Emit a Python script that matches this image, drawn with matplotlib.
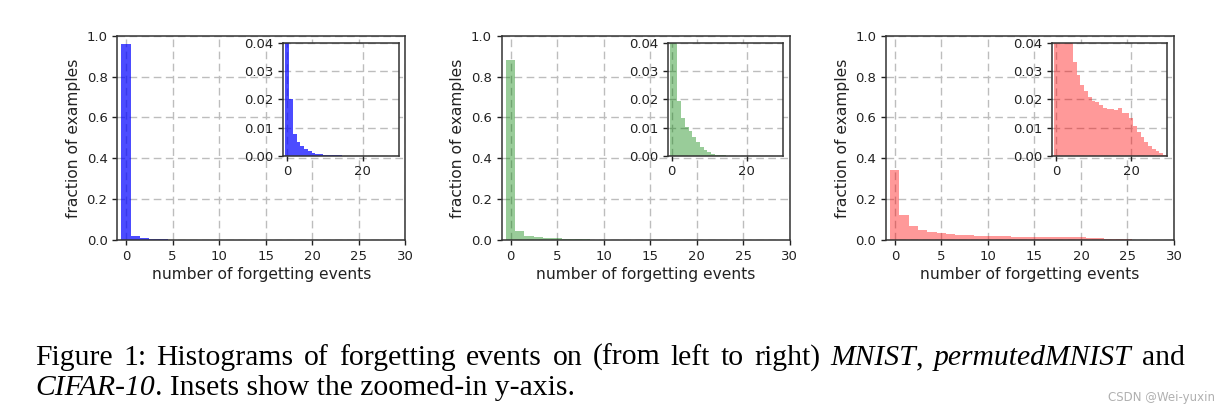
import numpy as np
import matplotlib
matplotlib.use("Agg")
import matplotlib.pyplot as plt

# ---------------- data ----------------
events = list(range(30))

mnist = [0.958, 0.0202, 0.0077, 0.0048, 0.0036, 0.0024, 0.0017, 0.0011, 0.0007, 0.0005,
         0.0003, 0.0002, 0.0001, 0.0001, 0.00005, 0, 0, 0, 0, 0,
         0, 0, 0, 0, 0, 0, 0, 0, 0, 0]

permuted_mnist = [0.882, 0.044, 0.0196, 0.0135, 0.0103, 0.0089, 0.0065, 0.0047, 0.0030, 0.0020,
                  0.0012, 0.0006, 0.0003, 0.0001, 0.00005, 0, 0, 0, 0, 0,
                  0, 0, 0, 0, 0, 0, 0, 0, 0, 0]

cifar10 = [0.341, 0.121, 0.069, 0.049, 0.041, 0.0334, 0.0286, 0.0251, 0.0230, 0.0210,
           0.0195, 0.0192, 0.0180, 0.0170, 0.0166, 0.0165, 0.0163, 0.0170, 0.0150, 0.0150,
           0.0135, 0.0107, 0.0085, 0.0067, 0.0050, 0.0036, 0.0024, 0.0017, 0.0008, 0.0004]

series = [mnist, permuted_mnist, cifar10]
colors = ["blue", "green", "red"]
alphas = [0.7, 0.4, 0.4]

main_xticks = [0, 5, 10, 15, 20, 25, 30]
main_yticks = [0.0, 0.2, 0.4, 0.6, 0.8, 1.0]
inset_xticks = [0, 20]
inset_yticks = [0.00, 0.01, 0.02, 0.03, 0.04]

xlabel = "number of forgetting events"
ylabel = "fraction of examples"

# ---------------- figure ----------------
W, H = 1226, 416
fig = plt.figure(figsize=(W / 100, H / 100), dpi=100)

TXT = "#222222"
GRID = "#bdbdbd"
SPINE = "#333333"
TICK_FS = 9.5
LAB_FS = 11.2

def style_axes(ax):
    ax.set_axisbelow(True)
    ax.grid(True, color=GRID, linestyle=(0, (5.5, 3.2)), linewidth=1.0)
    for s in ax.spines.values():
        s.set_color(SPINE)
        s.set_linewidth(1.1)
    ax.tick_params(colors=TXT, labelsize=TICK_FS, length=3.5, width=1.0)

lefts_px = [117.3, 501.7, 886.0]
ax_w_px = 288.0
top_px, bot_px = 35.7, 240.0

for i, (vals, col, al) in enumerate(zip(series, colors, alphas)):
    l = lefts_px[i] / W
    b = 1 - bot_px / H
    w = ax_w_px / W
    h = (bot_px - top_px) / H
    ax = fig.add_axes([l, b, w, h])
    ax.bar(events, vals, width=1.0, color=col, alpha=al, linewidth=0)
    ax.set_xlim(-0.95, 30)
    ax.set_ylim(0, 1.0)
    ax.set_xticks(main_xticks)
    ax.set_yticks(main_yticks)
    ax.set_yticklabels([f"{v:.1f}" for v in main_yticks])
    style_axes(ax)
    ax.set_xlabel(xlabel, fontsize=LAB_FS, color=TXT, labelpad=3)
    ax.set_ylabel(ylabel, fontsize=LAB_FS, color=TXT, labelpad=4)

    ins = ax.inset_axes([0.577, 0.413, 0.40, 0.55])
    ins.set_facecolor("white")
    ins.bar(events, vals, width=1.0, color=col, alpha=al, linewidth=0)
    ins.set_xlim(-1.0, 29.6)
    ins.set_ylim(0, 0.04)
    ins.set_xticks(inset_xticks)
    ins.set_yticks(inset_yticks)
    ins.set_yticklabels([f"{v:.2f}" for v in inset_yticks])
    style_axes(ins)

# ---------------- caption (justified first line) ----------------
SERIF = "Liberation Serif"
CAP_FS = 21.3
line1 = [[("Figure", "normal")], [("1:", "normal")], [("Histograms", "normal")],
         [("of", "normal")], [("forgetting", "normal")], [("events", "normal")],
         [("on", "normal")], [("(from", "normal")], [("left", "normal")],
         [("to", "normal")], [("right)", "normal")], [("MNIST", "italic"), (",", "normal")],
         [("permutedMNIST", "italic")], [("and", "normal")]]
line2 = [("CIFAR-10", "italic"), (". Insets show the zoomed-in y-axis.", "normal")]

renderer = fig.canvas.get_renderer()

def make(s, style):
    return fig.text(0, 0, s, fontsize=CAP_FS, family=SERIF, style=style,
                    color="black", va="baseline", ha="left")

def width_px(t):
    return t.get_window_extent(renderer).width

x0, x1 = 35.0, 1185.0
base1, base2 = 365.0, 395.0

words = []
for wd in line1:
    segs = [make(s, st) for s, st in wd]
    ws = [width_px(t) for t in segs]
    words.append((segs, ws))
total = sum(sum(ws) for _, ws in words)
gap = (x1 - x0 - total) / (len(words) - 1)
x = x0
for segs, ws in words:
    for t, wpx in zip(segs, ws):
        t.set_position((x / W, 1 - base1 / H))
        x += wpx
    x += gap

x = x0
for s, st in line2:
    t = make(s, st)
    t.set_position((x / W, 1 - base2 / H))
    x += width_px(t)

fig.text(1215 / W, 1 - 401 / H, "CSDN @Wei-yuxin", fontsize=8.5, color="#b0b0b0",
         ha="right", va="baseline", family="DejaVu Sans")

fig.savefig("out.png", dpi=100)
